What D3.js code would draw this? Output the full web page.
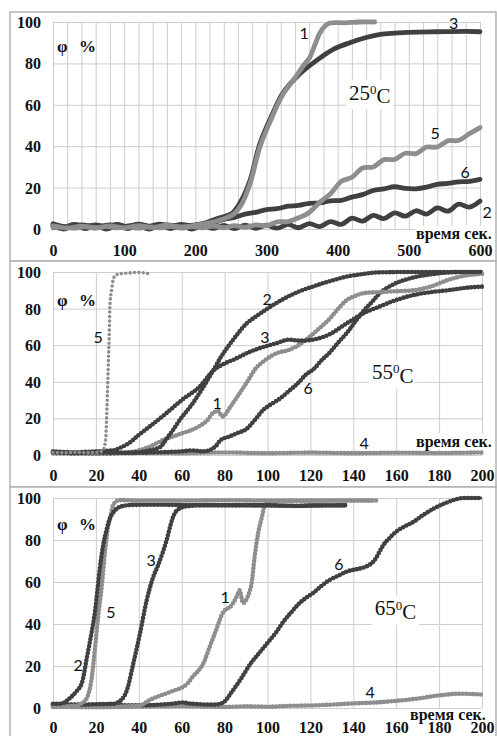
<!DOCTYPE html>
<html lang="ru">
<head>
<meta charset="utf-8">
<style>
    body { margin: 0; background: #fff; }
    svg { display: block; }
</style>
</head>
<body>
<script src="https://d3js.org/d3.v7.min.js"></script>
<script>
    // ---- tick labels ----
    var yTicks = [0, 20, 40, 60, 80, 100];
    var xTicks25 = [0, 100, 200, 300, 400, 500, 600];
    var xTicksHot = [0, 20, 40, 60, 80, 100, 120, 140, 160, 180, 200];

    // ---- 25 C : [время, φ %] ----
    var t25_1 = [[0,1.5],[20,0.5],[40,1.4],[60,0.6],[80,1.5],[100,0.6],[120,1.6],[140,0.8],[160,1.8],[180,1],[200,1.8],
        [220,3],[240,5],[253,7],[265,12],[277,22],[291,40],[309,55],[323,65],[340,73],[352,79],[361,83],[368,89],
        [375,94.7],[382,98],[389,99.5],[410,99.6],[430,100],[452,100]];
    var t25_3 = [[0,2.5],[20,1],[40,2],[60,1],[80,2],[100,1.2],[120,2],[140,1],[160,2],[180,1.2],[200,2],
        [215,3],[230,5],[245,6.5],[253,8],[265,14],[277,23.7],[291,41.5],[309,56],[323,65.7],[347,75],[371,81.6],
        [395,87],[417,90],[440,92.5],[460,94],[500,95],[540,95.3],[580,95.5],[600,95.3]];
    var t25_5 = [[0,0.5],[15,1.2],[30,0.4],[45,1.2],[60,0.4],[75,1.3],[90,0.5],[105,1.2],[120,0.4],[135,1.2],[150,0.5],
        [165,1.3],[180,0.4],[195,1.2],[210,0.6],[225,1.4],[240,0.6],[255,1.6],[270,0.8],[285,2],[300,1.6],[315,3.4],
        [330,3.6],[345,5.4],[360,8],[375,13],[390,17],[405,23],[420,25],[435,29.5],[450,30],[465,33.5],[480,33.6],
        [495,36.6],[510,36.4],[525,39.6],[540,39.6],[555,42.6],[570,42.8],[585,46],[600,49]];
    var t25_6 = [[0,2],[15,1],[30,2.2],[45,1.2],[60,2],[75,1],[90,2.2],[105,1.2],[120,2.4],[135,1.4],[150,2.3],
        [165,1.4],[180,2.2],[195,1.5],[210,2.4],[225,3],[240,4.6],[255,5.6],[270,7.2],[285,8],[300,9.4],[315,9.8],
        [330,11],[345,11.4],[360,12.4],[375,12.6],[390,13.6],[405,13.8],[420,15.4],[435,16.6],[450,18.6],[465,19.4],
        [480,20.4],[495,19.6],[510,19.4],[525,20.2],[540,21.6],[555,22],[570,22.8],[585,23],[600,24]];
    var t25_2 = [[0,1.5],[15,0],[30,1.6],[45,0.2],[60,1.5],[75,0],[90,1.4],[105,0.2],[120,1.5],[135,0],[150,1.6],
        [165,0.2],[180,1.4],[195,0],[210,1.5],[225,0.3],[240,1.7],[255,0.2],[270,1.8],[285,0.3],[300,1.8],[315,0.4],
        [330,2.2],[345,0.6],[360,2.6],[375,1.2],[390,3.6],[405,2.2],[420,5.2],[435,3.8],[450,6.6],[465,5],[480,7.8],
        [495,6.2],[510,8.8],[525,7.2],[540,10.2],[555,8.6],[570,12],[585,10.6],[600,13.5]];

    // ---- 55 C ----
    var t55_5 = [[0,1.5],[5,1.2],[10,1.5],[15,1.3],[20,1.5],[23,2],[24.5,8],[25,20],[25.4,35],[25.8,50],[26.2,65],
        [26.6,83],[27.3,90],[28,95.6],[29,98],[31,99],[34,99.3],[37,99.6],[40,99.8],[43,99.4],[45,99]];
    var t55_2 = [[0,1.5],[10,1],[20,1.5],[30,1.2],[40,1.5],[45,2.5],[50,4.4],[53,9],[56,13.7],[59,19],[62,23.5],
        [65,28],[70,37],[74.6,46],[78,53],[84,63],[90.4,72],[95,76],[100,80],[107,85],[114,89],[121,92],[129,95],
        [137,97.5],[145,99],[152,99.8],[165,100],[180,100],[200,100]];
    var t55_3 = [[0,2],[10,1.5],[20,2],[28,2.5],[31,3.8],[36,7],[40,11],[45,15.5],[53,23],[60,30],[68.5,37.5],
        [74.6,46],[80,50],[84,52],[92,56.5],[98,59],[104,61],[110,63],[115,62.5],[121,63],[129,66],[137,72],
        [145,77.6],[152,81],[160,84.7],[168,87.4],[176,89],[184,90],[192,91.3],[200,92]];
    var t55_1 = [[0,1],[20,1.2],[35,1.5],[40.6,2.7],[45,4.5],[51,8],[58,11],[67,15],[72,19],[74.6,23],[77,24],
        [79,21],[82.5,26],[86,32],[90,39],[95,48],[98,51],[101,53.6],[105,56],[109,57],[113,59],[118,63],[123,68],
        [129,74.5],[133,80],[137,84.7],[141,87],[145,88.5],[152,89],[160,89.5],[168,90],[176,92],[184,95.6],
        [192,98],[200,99]];
    var t55_6 = [[0,1.5],[20,1],[40,1.2],[50,1.5],[60,2],[65,2.5],[70,2],[73,2.7],[76,5],[78,8],[82,10],[86,12],
        [90,14],[94,19],[98,24.6],[102,28],[106,31],[110,35],[114,39],[118,44],[121.6,47],[125,51.5],[129,56],
        [133,61.5],[137,66.7],[141,73],[145,79],[149,84],[152,88],[156,91.5],[160,94],[164,95.7],[168,97],
        [176,98.7],[184,99.7],[192,100],[200,100]];
    var t55_4 = [[0,1],[20,0.8],[40,1.2],[60,1],[80,1.4],[100,1],[120,1.3],[140,1],[160,1.2],[180,1.1],[200,1.4]];

    // ---- 65 C ----
    var t65_2 = [[0,2],[3,2],[5,2.5],[8,4.8],[11,8],[13.5,12],[15.8,24],[18,36],[19.6,46],[20.8,57],[21.9,67],
        [23.4,77.6],[25,85],[26.6,90.5],[28,93],[29.8,95],[33,96.3],[37,96.7],[45,96.8],[60,96.7],[80,96.6],
        [100,96.6],[115,96.2],[120,96.5],[137,96.6]];
    var t65_5 = [[0,1],[5,0.8],[10,1],[13,2],[15.8,4.8],[18,14],[19.6,28.6],[21,43],[22.8,58.6],[24.2,74],
        [25.6,85.7],[27,92],[28,96.7],[31,99],[40,98.8],[60,98.8],[80,98.9],[100,98.8],[120,98.7],[140,98.8],[151,98.8]];
    var t65_3 = [[0,1.8],[10,1.5],[20,1.8],[28,2],[32,4],[34.5,8.6],[37.4,21],[40.6,35.7],[43.7,51.4],[46.6,62],
        [49,68],[51,73.6],[53,80],[54.5,86],[56,91],[57.7,94],[62,96],[70,96.5],[90,96.5],[110,96.3],[137,96.5]];
    var t65_1 = [[0,0.8],[20,0.6],[40,1],[45,3.8],[49,5.5],[53,7],[57,8.5],[60.6,10],[63,12],[65,14.8],[68,18],
        [70,21],[73,29],[76,37],[79,45],[80.5,47],[82.5,48],[85.6,53],[87,56],[88.6,50],[90,51.4],[91.5,55],
        [92.6,59.5],[94,72],[95.6,83],[97.4,91],[98.8,96.7],[101,98.5],[120,98.8],[150,98.8]];
    var t65_6 = [[0,1.8],[20,1.5],[40,1.3],[55,2],[60,2.6],[65,2],[75,1.6],[79,2.4],[84,8.6],[88,14.5],[92,21],
        [96,26],[100,31],[104,36],[107,40.5],[111,45.5],[115,50],[118,52.5],[121.6,55],[125,58],[129,61],[133,63],
        [137,65],[141,66],[145,67],[148,68.5],[150,70.5],[152,74],[154,77.6],[157,81],[160,84],[164,86.5],
        [168,88.6],[172,91.5],[177.6,95],[184,98],[191.6,100],[200,100]];
    var t65_4 = [[0,0.5],[20,0.4],[40,0.6],[60,0.8],[80,0.5],[90,0.8],[100,0.6],[110,1],[120,1.2],[130,1.6],
        [140,2.2],[150,2.6],[160,3.4],[170,4.5],[180,6],[190,6.8],[200,6.4]];

    var DARK = "#404040", LIGHT = "#8e8e8e";
    var serif = "'Liberation Serif', 'Times New Roman', serif";
    var sans = "Lato, 'Liberation Sans', sans-serif";

    // panel layout (pixels) + series; label positions in data units
    var panels = [
        { top: 12, bottom: 261, x0: 53, x1: 480, yTop: 22, yBot: 229, xMax: 600, ticks: xTicks25,
          xlabY: 251, timeX: 416, timeY: 233, phiY: 46, temp: "25", tempAt: [416, 66], kind: "thick", timeBox: true,
          series: [
            { d: t25_2, c: DARK, n: "2", at: [610, 8.2] },
            { d: t25_6, c: DARK, n: "6", at: [579, 27.5] },
            { d: t25_5, c: LIGHT, n: "5", at: [537, 46.4] },
            { d: t25_3, c: DARK, n: "3", at: [563, 99.5] },
            { d: t25_1, c: LIGHT, n: "1", at: [353, 94.7] } ] },
        { top: 261, bottom: 487, x0: 53, x1: 482, yTop: 272, yBot: 455, xMax: 200, ticks: xTicksHot,
          xlabY: 476, timeX: 416, timeY: 441, phiY: 300, temp: "55", tempAt: [148.7, 45.4], kind: "beads", timeBox: true,
          series: [
            { d: t55_4, c: LIGHT, n: "4", at: [145, 6.6] },
            { d: t55_6, c: DARK, n: "6", at: [119, 36.6] },
            { d: t55_1, c: LIGHT, n: "1", at: [76.5, 28.4] },
            { d: t55_3, c: DARK, n: "3", at: [98.8, 64.5] },
            { d: t55_2, c: DARK, n: "2", at: [99.8, 85.2] },
            { d: t55_5, c: LIGHT, n: "5", at: [21, 64.5], dotted: true } ] },
        { top: 487, bottom: 740, x0: 53, x1: 482, yTop: 498, yBot: 708, xMax: 200, ticks: xTicksHot,
          xlabY: 728, timeX: 410, timeY: 714, phiY: 524, temp: "65", tempAt: [150, 47.6], kind: "beads", timeBox: false,
          series: [
            { d: t65_4, c: LIGHT, n: "4", at: [147.8, 7.6] },
            { d: t65_6, c: DARK, n: "6", at: [133.3, 68.6] },
            { d: t65_1, c: LIGHT, n: "1", at: [80.2, 52.9] },
            { d: t65_3, c: DARK, n: "3", at: [45.7, 70.5] },
            { d: t65_5, c: LIGHT, n: "5", at: [27, 45.7] },
            { d: t65_2, c: DARK, n: "2", at: [11.7, 20.5] } ] }
    ];

    var svg = d3.select("body").append("svg")
        .attr("width", 497)
        .attr("height", 736);

    function boldSerif(sel, size) {
        sel.style("font-family", serif).style("font-weight", "bold").style("font-size", size + "px")
            .attr("fill", "#111");
    }

    function whiteBox(g, t, pad) {
        var b = t.node().getBBox();
        g.insert("rect", function () { return t.node(); })
            .attr("x", b.x - pad).attr("y", b.y - pad + 2)
            .attr("width", b.width + 2 * pad).attr("height", b.height + 2 * pad - 4)
            .attr("fill", "#fff");
    }

    panels.forEach(function (p) {
        var x = d3.scaleLinear().domain([0, p.xMax]).range([p.x0, p.x1]);
        var y = d3.scaleLinear().domain([0, 100]).range([p.yBot, p.yTop]);
        var g = svg.append("g");

        g.append("rect")
            .attr("x", 10).attr("y", p.top)
            .attr("width", 486).attr("height", p.bottom - p.top)
            .attr("fill", "#fff").attr("stroke", "#b2b2b2").attr("stroke-width", 1.5);

        // grid, every 20 units both ways
        var gx = g.append("g").attr("transform", "translate(0," + p.yBot + ")")
            .call(d3.axisBottom(x).tickValues(d3.range(0, p.xMax + 1, 20))
                .tickSize(-(p.yBot - p.yTop)).tickFormat(""));
        var gy = g.append("g").attr("transform", "translate(" + p.x0 + ",0)")
            .call(d3.axisLeft(y).tickValues(yTicks).tickSize(-(p.x1 - p.x0)).tickFormat(""));
        [gx, gy].forEach(function (a) {
            a.select(".domain").remove();
            a.selectAll("line").attr("stroke", "#cdcdcd").attr("stroke-width", 1);
        });

        // tick labels
        var ax = g.append("g").attr("transform", "translate(0," + p.yBot + ")")
            .call(d3.axisBottom(x).tickValues(p.ticks).tickSize(0));
        ax.selectAll("text").attr("dy", null).attr("y", p.xlabY - p.yBot + 5);
        var ay = g.append("g").attr("transform", "translate(" + p.x0 + ",0)")
            .call(d3.axisLeft(y).tickValues(yTicks).tickSize(0).tickPadding(12));
        ay.selectAll("text").attr("dy", "0.34em");
        [ax, ay].forEach(function (a) {
            a.select(".domain").remove();
            boldSerif(a.selectAll("text"), 16);
        });

        var line = d3.line()
            .x(function (d) { return x(d[0]); })
            .y(function (d) { return y(d[1]); })
            .curve(p.kind == "thick" ? d3.curveCatmullRom : d3.curveMonotoneX);

        p.series.forEach(function (s) {
            if (p.kind == "thick") {
                g.append("path").datum(s.d).attr("d", line)
                    .attr("fill", "none").attr("stroke", s.c)
                    .attr("stroke-width", 4.8).attr("stroke-linejoin", "round").attr("stroke-linecap", "round");
                return;
            }
            if (!s.dotted) {
                g.append("path").datum(s.d).attr("d", line)
                    .attr("fill", "none").attr("stroke", s.c).attr("stroke-width", 2.4);
            }
            g.append("path").datum(s.d).attr("d", line)
                .attr("fill", "none").attr("stroke", s.c)
                .attr("stroke-width", s.dotted ? 3.6 : 4.6)
                .attr("stroke-linecap", "round")
                .attr("stroke-dasharray", s.dotted ? "0 4.4" : "0 3.6");
        });

        // curve numbers
        p.series.forEach(function (s) {
            g.append("text")
                .attr("x", x(s.at[0])).attr("y", y(s.at[1]))
                .attr("text-anchor", "middle").attr("dy", "0.36em")
                .style("font-family", sans).style("font-size", "16px").attr("fill", "#111")
                .text(s.n);
        });

        // φ %
        var phi = g.append("text").attr("y", p.phiY).attr("dy", "0.35em");
        boldSerif(phi, 17);
        phi.append("tspan").attr("x", 57).text("φ");
        phi.append("tspan").attr("x", 79).text("%");

        // время сек.
        var tm = g.append("text").attr("x", p.timeX).attr("y", p.timeY).attr("dy", "0.35em")
            .text("время сек.");
        boldSerif(tm, 16);
        if (p.timeBox) whiteBox(g, tm, 1);

        // temperature
        var tt = g.append("text").attr("x", x(p.tempAt[0])).attr("y", y(p.tempAt[1])).attr("dy", "0.35em")
            .style("font-family", serif).style("font-size", "21px").attr("fill", "#111");
        tt.append("tspan").text(p.temp);
        tt.append("tspan").attr("dy", "-0.45em").style("font-size", "13px").text("0");
        tt.append("tspan").attr("dy", "0.45em").text("C");
        whiteBox(g, tt, 3);
    });
</script>
</body>
</html>
